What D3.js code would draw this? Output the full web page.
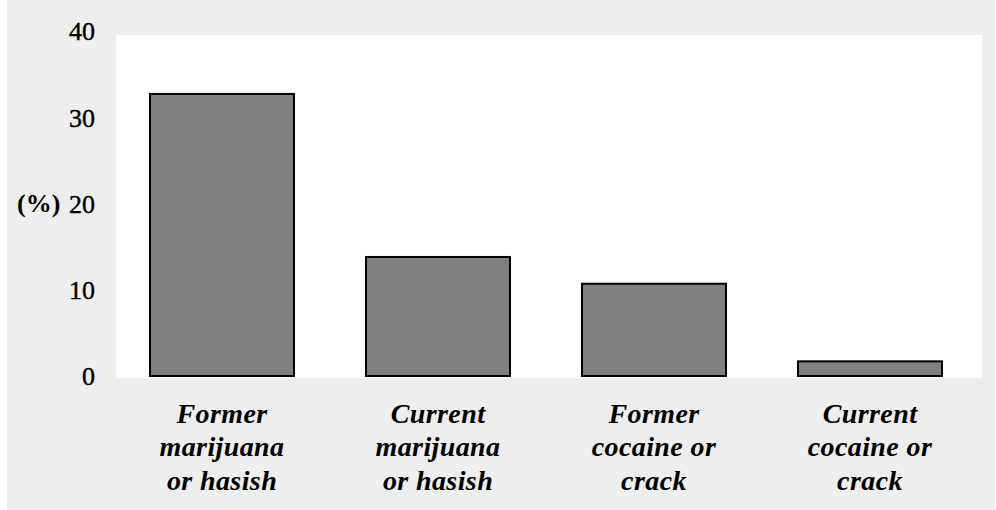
<!DOCTYPE html>
<html>
<head>
<meta charset="utf-8">
<script src="https://cdn.jsdelivr.net/npm/d3@7"></script>
<style>
  html, body { margin: 0; padding: 0; background: #ffffff; }
  svg { display: block; }
</style>
</head>
<body>
<svg id="chart" width="996" height="510"></svg>
<script>
// Share of respondents (%) by drug-use group
const categories = [
  ["Former", "marijuana", "or hasish"],
  ["Current", "marijuana", "or hasish"],
  ["Former", "cocaine or", "crack"],
  ["Current", "cocaine or", "crack"]
];
const values = [32.7, 13.8, 10.7, 1.7];
const yTicks = [0, 10, 20, 30, 40];
const yUnitLabel = "(%)";

const svg = d3.select("#chart");
const W = 996, H = 510;

// panel background
svg.append("rect").attr("x", 7).attr("y", 0).attr("width", 988).attr("height", H)
  .attr("fill", "#eeeeee");

const plot = { left: 116, right: 982, top: 35, bottom: 378 };
svg.append("rect")
  .attr("x", plot.left).attr("y", plot.top)
  .attr("width", plot.right - plot.left).attr("height", plot.bottom - plot.top)
  .attr("fill", "#ffffff");

const x = d3.scaleBand()
  .domain(d3.range(categories.length))
  .range([114, 978])
  .paddingInner(1 / 3)
  .paddingOuter(1 / 6);

const y = d3.scaleLinear().domain([0, 40]).range([376, 31]);

// bars
svg.append("g").selectAll("rect")
  .data(values)
  .join("rect")
  .attr("x", (d, i) => x(i))
  .attr("y", d => y(d))
  .attr("width", x.bandwidth())
  .attr("height", d => y(0) - y(d))
  .attr("fill", "#808080")
  .attr("stroke", "#000000")
  .attr("stroke-width", 2);

// y axis (labels only)
const yAxis = d3.axisLeft(y).tickValues(yTicks).tickSize(0).tickPadding(0)
  .tickFormat(d3.format("d"));
const gy = svg.append("g").attr("transform", "translate(95,0)").call(yAxis);
gy.select(".domain").remove();
gy.selectAll("text")
  .attr("font-family", "'Liberation Serif', 'Times New Roman', serif")
  .attr("font-size", 26)
  .attr("fill", "#000")
  .attr("stroke", "#000").attr("stroke-width", 0.4)
  .attr("dy", "0.34em");

svg.append("text")
  .attr("x", 17).attr("y", y(20))
  .attr("dy", "0.34em")
  .attr("font-family", "'Liberation Serif', 'Times New Roman', serif")
  .attr("font-size", 26).attr("font-weight", "bold")
  .attr("fill", "#000")
  .text(yUnitLabel);

// category labels
const lineY = [423, 456, 490];
const labels = svg.append("g");
categories.forEach((lines, i) => {
  const t = labels.append("text")
    .attr("text-anchor", "middle")
    .attr("font-family", "'Liberation Serif', 'Times New Roman', serif")
    .attr("font-size", 28).attr("font-weight", "bold").attr("font-style", "italic")
    .attr("letter-spacing", 0.4)
    .attr("fill", "#000");
  lines.forEach((s, k) => {
    t.append("tspan").attr("x", x(i) + x.bandwidth() / 2).attr("y", lineY[k]).text(s);
  });
});
</script>
</body>
</html>
